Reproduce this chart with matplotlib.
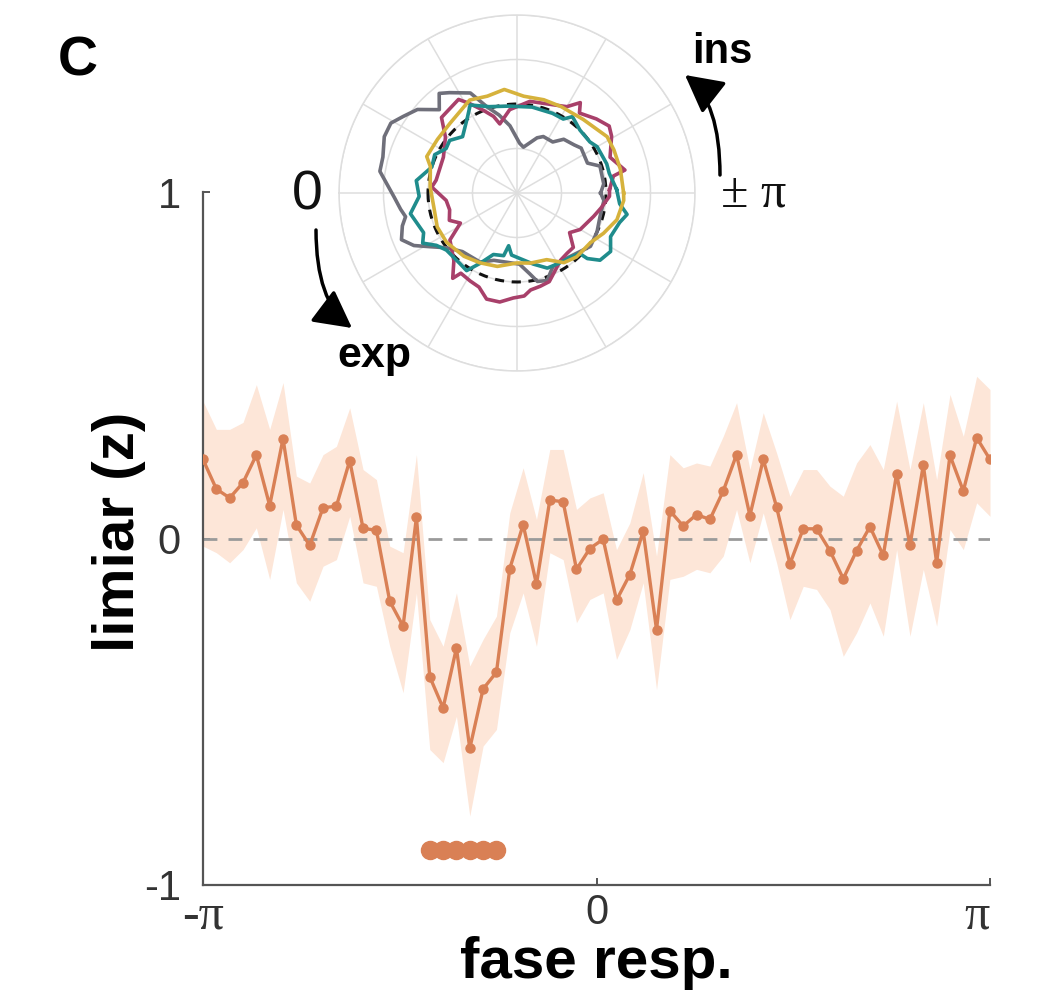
import numpy as np
import matplotlib
matplotlib.use("Agg")
import matplotlib.pyplot as plt
from matplotlib.patches import ArrowStyle, FancyArrowPatch

plt.rcParams["font.family"] = ["Liberation Sans", "DejaVu Sans"]

# --- main curve: threshold (z) per respiratory phase bin ---
limiar_z = [0.228, 0.143, 0.117, 0.161, 0.241, 0.095, 0.288, 0.039, -0.020, 0.089,
            0.093, 0.225, 0.029, 0.024, -0.181, -0.253, 0.061, -0.399, -0.489, -0.316,
            -0.606, -0.434, -0.386, -0.087, 0.040, -0.132, 0.111, 0.106, -0.089, -0.029,
            -0.002, -0.178, -0.104, 0.021, -0.263, 0.080, 0.036, 0.069, 0.055, 0.137,
            0.242, 0.066, 0.228, 0.091, -0.073, 0.028, 0.028, -0.035, -0.116, -0.035,
            0.034, -0.049, 0.187, -0.020, 0.212, -0.070, 0.240, 0.137, 0.291, 0.228]
banda_sup = [0.396, 0.315, 0.315, 0.335, 0.444, 0.315, 0.450, 0.180, 0.160, 0.242,
             0.266, 0.377, 0.199, 0.170, -0.022, -0.041, 0.242, -0.234, -0.311, -0.157,
             -0.368, -0.291, -0.224, 0.074, 0.204, 0.055, 0.257, 0.257, 0.084, 0.117,
             0.132, -0.032, 0.045, 0.190, -0.051, 0.242, 0.204, 0.218, 0.209, 0.295,
             0.392, 0.199, 0.363, 0.247, 0.122, 0.199, 0.199, 0.151, 0.122, 0.218,
             0.271, 0.199, 0.396, 0.199, 0.392, 0.170, 0.416, 0.295, 0.468, 0.430]
banda_inf = [-0.022, -0.041, -0.070, -0.032, 0.031, -0.118, 0.084, -0.128, -0.181, -0.080,
             -0.061, 0.064, -0.128, -0.138, -0.311, -0.445, -0.157, -0.609, -0.647, -0.513,
             -0.801, -0.599, -0.551, -0.272, -0.157, -0.311, -0.041, -0.061, -0.243, -0.176,
             -0.157, -0.349, -0.263, -0.128, -0.436, -0.118, -0.109, -0.089, -0.099, -0.051,
             0.084, -0.070, 0.074, -0.070, -0.234, -0.138, -0.147, -0.205, -0.340, -0.272,
             -0.186, -0.282, -0.032, -0.282, -0.089, -0.253, 0.026, -0.032, 0.103, 0.064]
sig_idx = [17, 18, 19, 20, 21, 22]
sig_nivel = -0.9

# --- polar inset: angle (deg, screen) and radius (fraction of outer ring) ---
cinza_ang = [0, 6, 18, 23, 35, 40, 49, 55, 65, 70, 82, 87, 96, 103, 109, 115, 124, 128,
             133, 140, 146, 151, 157, 165, 171, 182, 188, 192, 196, 202, 207, 212, 218,
             227, 242, 251, 272, 279, 283, 289, 296, 307, 324, 334, 344, 355]
cinza_r = [0.47, 0.49, 0.49, 0.43, 0.44, 0.42, 0.40, 0.35, 0.35, 0.33, 0.26, 0.28, 0.38,
           0.45, 0.51, 0.62, 0.68, 0.71, 0.64, 0.73, 0.77, 0.81, 0.81, 0.78, 0.78, 0.69,
           0.66, 0.64, 0.67, 0.70, 0.65, 0.57, 0.50, 0.45, 0.44, 0.40, 0.40, 0.46, 0.51,
           0.52, 0.46, 0.46, 0.51, 0.50, 0.485, 0.49]
magenta_ang = [2, 10, 12, 21, 31, 36, 43, 52, 55, 60, 68, 82, 95, 104, 107, 112, 118, 122,
               135, 142, 154, 171, 176, 186, 194, 202, 208, 215, 227, 233, 235, 242, 248,
               254, 261, 268, 274, 278, 284, 290, 303, 310, 316, 323, 330, 343, 350, 358]
magenta_r = [0.52, 0.55, 0.62, 0.56, 0.62, 0.64, 0.61, 0.57, 0.62, 0.56, 0.535, 0.52, 0.47,
             0.40, 0.45, 0.50, 0.57, 0.62, 0.60, 0.51, 0.46, 0.46, 0.48, 0.40, 0.39, 0.41,
             0.36, 0.46, 0.52, 0.60, 0.55, 0.56, 0.57, 0.62, 0.62, 0.59, 0.58, 0.55, 0.54,
             0.53, 0.45, 0.44, 0.44, 0.37, 0.41, 0.45, 0.48, 0.52]
teal_ang = [2, 12, 18, 30, 35, 45, 54, 58, 66, 80, 95, 108, 118, 123, 134, 142, 148, 155,
            163, 173, 182, 191, 203, 208, 213, 219, 231, 237, 242, 249, 258, 261, 265, 283,
            292, 301, 310, 316, 317, 321, 328, 335, 344, 349, 354]
teal_r = [0.56, 0.53, 0.53, 0.52, 0.50, 0.50, 0.53, 0.49, 0.49, 0.49, 0.49, 0.51, 0.56,
          0.51, 0.44, 0.48, 0.47, 0.51, 0.50, 0.57, 0.55, 0.61, 0.57, 0.60, 0.54, 0.51,
          0.51, 0.52, 0.45, 0.37, 0.36, 0.30, 0.35, 0.41, 0.455, 0.46, 0.47, 0.49, 0.54,
          0.60, 0.62, 0.58, 0.60, 0.63, 0.58]
ouro_ang = [0, 13, 24, 32, 48, 63, 74, 86, 97, 107, 117, 134, 146, 158, 163, 176, 189,
            203, 215, 230, 242, 255, 270, 281, 294, 304, 313, 326, 335, 345, 356]
ouro_r = [0.599, 0.596, 0.596, 0.597, 0.556, 0.545, 0.545, 0.545, 0.586, 0.569, 0.586,
          0.543, 0.539, 0.547, 0.509, 0.489, 0.474, 0.487, 0.483, 0.464, 0.444, 0.427,
          0.393, 0.401, 0.410, 0.472, 0.491, 0.498, 0.536, 0.581, 0.601]
r_uniforme = 0.5

cor_linha = "#d98055"
cor_banda = "#fde6d8"
cor_eixo = "#555555"

W, H = 1049, 1008
fig = plt.figure(figsize=(W / 100, H / 100), dpi=100)

# main axes
ax = fig.add_axes([203 / W, 1 - 885 / H, 787 / W, 693 / H])
fase = np.linspace(-np.pi, np.pi, len(limiar_z))
ax.fill_between(fase, banda_inf, banda_sup, color=cor_banda, lw=0, zorder=1)
ax.axhline(0, color="#9a9a9a", lw=2, ls=(0, (5, 4)), zorder=2)
ax.plot(fase, limiar_z, "-o", color=cor_linha, lw=2.4, ms=6.5, zorder=3)
ax.plot(fase[sig_idx], [sig_nivel] * len(sig_idx), "o", color=cor_linha, ms=13, zorder=3)

ax.set_xlim(-np.pi, np.pi)
ax.set_ylim(-1, 1)
ax.set_xticks([-np.pi, 0, np.pi])
ax.set_xticklabels(["-π", "0", "π"])
ax.set_yticks([-1, 0, 1])
ax.set_yticklabels(["-1", "0", "1"])
for s in ["top", "right"]:
    ax.spines[s].set_visible(False)
for s in ["left", "bottom"]:
    ax.spines[s].set_color(cor_eixo)
    ax.spines[s].set_linewidth(1.6)
ax.tick_params(direction="in", length=5, width=1.4, color=cor_eixo,
               labelsize=30, labelcolor="#333333")
ax.tick_params(axis="x", pad=6)
ax.tick_params(axis="y", pad=16)
for i, lab in enumerate(ax.get_xticklabels()):
    if i != 1:
        lab.set_family(["Liberation Serif", "DejaVu Serif"])
        lab.set_fontsize(36)
ax.get_xticklabels()[-1].set_horizontalalignment("right")
ax.set_xlabel("fase resp.", fontsize=42, fontweight="bold")
ax.set_ylabel("limiar (z)", fontsize=42, fontweight="bold")
ax.xaxis.set_label_coords(0.5, -0.074)
ax.yaxis.set_label_coords(-0.072, 0.51)

# polar inset
axp = fig.add_axes([339 / W, 1 - 371 / H, 356 / W, 356 / H], projection="polar")
axp.set_theta_zero_location("W")
axp.set_theta_direction(1)
axp.set_ylim(0, 1)
axp.set_rgrids([0.25, 0.5, 0.75, 1.0], labels=[])
axp.set_thetagrids(np.arange(0, 360, 30), labels=[])
axp.grid(color="#dedede", lw=1.1)
axp.spines["polar"].set_color("#dedede")
axp.spines["polar"].set_linewidth(1.1)
axp.tick_params(length=0)

ang_circ = np.linspace(0, 2 * np.pi, 200)
axp.plot(ang_circ, np.full(ang_circ.shape, r_uniforme), color="#111111", lw=2.2,
         ls=(0, (3, 2.5)), zorder=2)
tracos = [
    (cinza_ang, cinza_r, "#6f6f7a"),
    (magenta_ang, magenta_r, "#a8406a"),
    (teal_ang, teal_r, "#1f8c8c"),
    (ouro_ang, ouro_r, "#d6b23c"),
]
for ang, r, cor in tracos:
    th = np.deg2rad(np.array(ang + ang[:1]) - 180)
    axp.plot(th, r + r[:1], color=cor, lw=2.6, zorder=3)

# labels and arrows around the inset
fig.text(78 / W, 1 - 61 / H, "C", fontsize=40, fontweight="bold", ha="center", va="center")
fig.text(307 / W, 1 - 196 / H, "0", fontsize=40, color="#111111", ha="center", va="center")
fig.text(754 / W, 1 - 194 / H, "± π", fontsize=36, color="#111111",
         family=["Liberation Serif", "DejaVu Serif"], ha="center", va="center")
fig.text(722 / W, 1 - 52 / H, "ins", fontsize=30, fontweight="bold", ha="center", va="center")
fig.text(374 / W, 1 - 356 / H, "exp", fontsize=31, fontweight="bold", ha="center", va="center")

seta = ArrowStyle("-|>", head_length=1.6, head_width=0.85)
fig.add_artist(FancyArrowPatch(
    (316, H - 230), (352, H - 328), transform=None, arrowstyle=seta,
    connectionstyle="angle3,angleA=90,angleB=-37", mutation_scale=14.4, lw=2.5,
    color="black", shrinkA=0, shrinkB=0))
fig.add_artist(FancyArrowPatch(
    (720, H - 175), (685, H - 75), transform=None, arrowstyle=seta,
    connectionstyle="angle3,angleA=90,angleB=142", mutation_scale=14.4, lw=2.5,
    color="black", shrinkA=0, shrinkB=0))

fig.savefig("out.png", dpi=100)
